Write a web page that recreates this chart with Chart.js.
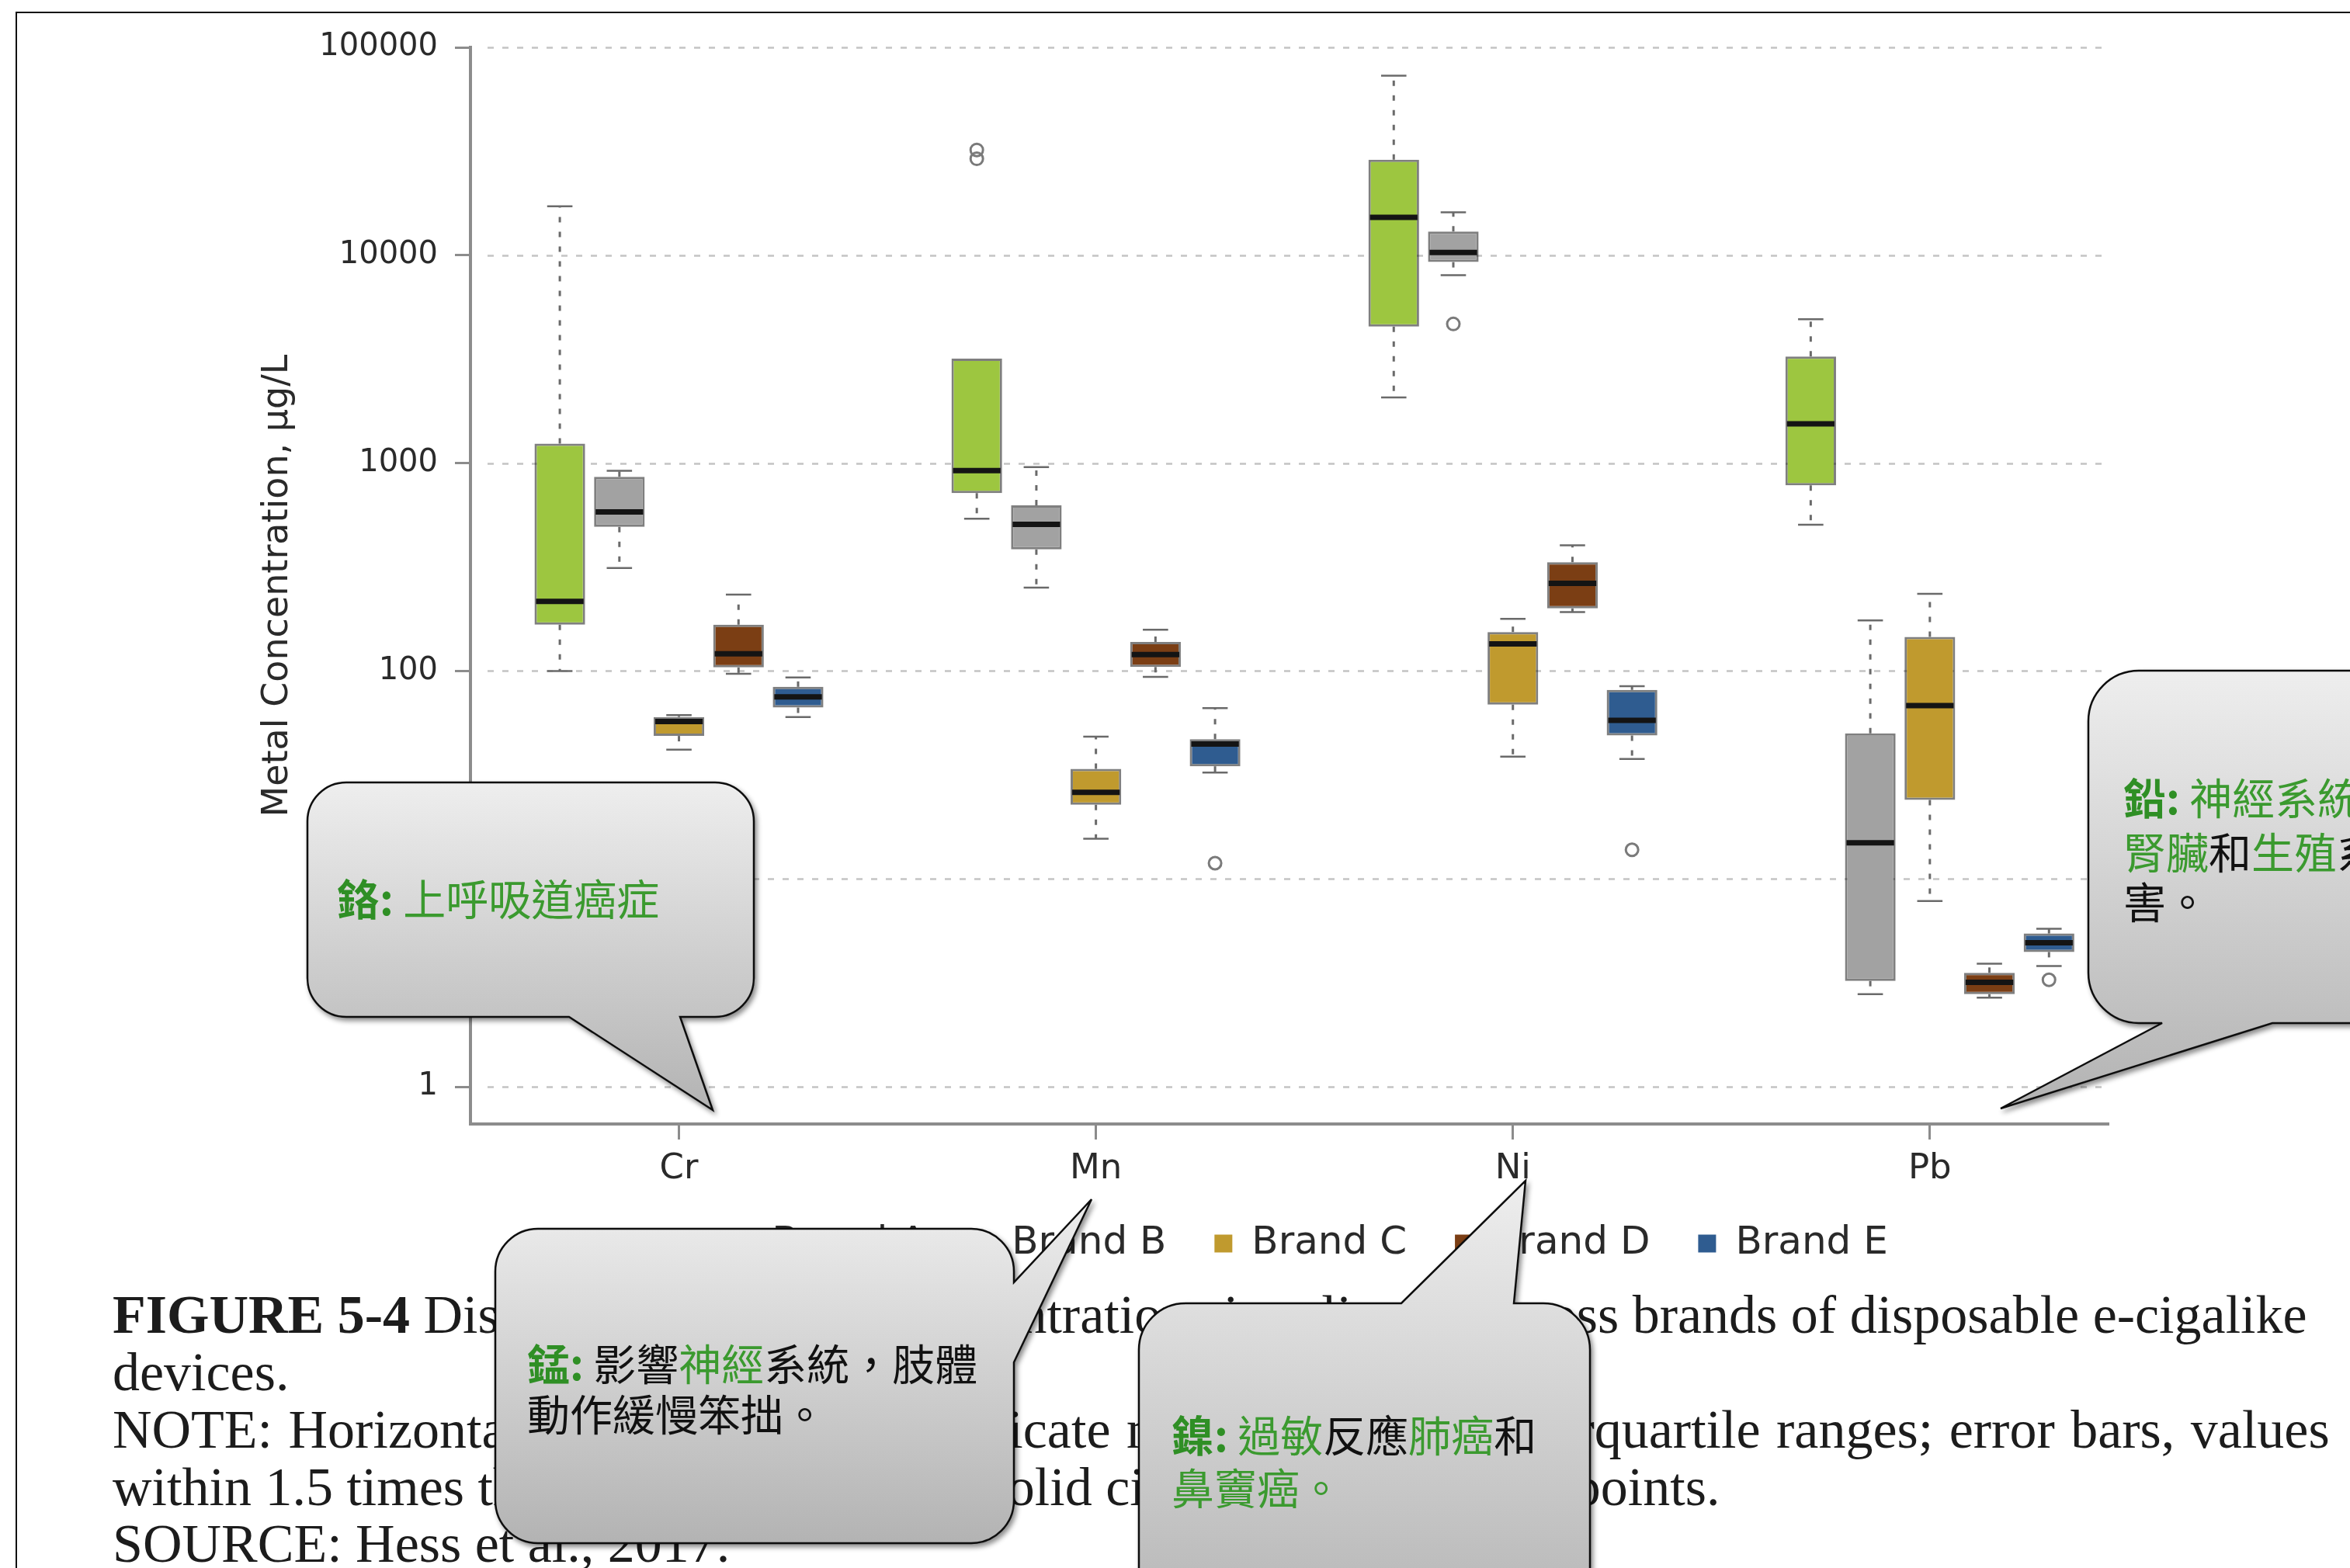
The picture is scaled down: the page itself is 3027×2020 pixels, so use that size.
<!DOCTYPE html>
<html lang="zh-Hant">
<head>
<meta charset="utf-8">
<title>Metal concentrations across brands of disposable e-cigalike devices</title>
<script src="https://cdn.jsdelivr.net/npm/chart.js@4.4.1/dist/chart.umd.min.js"></script>
<style>
  html, body { margin: 0; padding: 0; background: #fff; }
  #page { position: relative; width: 3027px; height: 2020px; overflow: hidden; background: #fff; }
  #chartBox { position: absolute; left: 0; top: 0; width: 3027px; height: 1637px; }
  .frameTop { position: absolute; left: 20px; top: 15px; width: 3007px; height: 2px; background: #111; }
  .frameLeft { position: absolute; left: 20px; top: 15px; width: 2px; height: 2005px; background: #111; }
  .cap { position: absolute; left: 145px; font-family: 'Liberation Serif', 'Times New Roman', serif;
         font-size: 70px; line-height: 74px; color: #1c1c1c; white-space: nowrap; }
  #notes { position: absolute; left: 0; top: 0; }
  #notes text { font-family: 'Noto Sans CJK TC', 'Noto Sans CJK SC', sans-serif; font-size: 55px; white-space: pre; }
  #notes .g { fill: #3b9a2f; }
  #notes .k { fill: #111; }
  #notes .h { fill: #2f8f25; font-weight: bold; }
</style>
</head>
<body>
<div id="page">
  <div class="frameTop"></div>
  <div class="frameLeft"></div>
  <div id="chartBox"><canvas id="chart"></canvas></div>

  <div class="cap" style="top:1657px"><b>FIGURE 5-4</b> Distribution of metal concentrations in e-liquids across brands of disposable e-cigalike</div>
  <div class="cap" style="top:1731px">devices.</div>
  <div class="cap" style="top:1805px; word-spacing:3px">NOTE: Horizontal lines in the boxes indicate medians; boxes, interquartile ranges; error bars, values</div>
  <div class="cap" style="top:1879px">within 1.5 times the interquartile range; solid circles, outlying data points.</div>
  <div class="cap" style="top:1952px">SOURCE: Hess et al., 2017.</div>

  <svg id="notes" width="3027" height="2020" viewBox="0 0 3027 2020">
    <defs>
      <linearGradient id="bubbleFill" x1="0" y1="0" x2="0" y2="1">
        <stop offset="0" stop-color="#eeeeee"/>
        <stop offset="1" stop-color="#b3b3b3"/>
      </linearGradient>
      <filter id="bubbleShadow" x="-10%" y="-10%" width="130%" height="130%">
        <feDropShadow dx="3" dy="4" stdDeviation="3" flood-color="#000" flood-opacity="0.45"/>
      </filter>
    </defs>
    <g fill="url(#bubbleFill)" stroke="#111" stroke-width="2.5" filter="url(#bubbleShadow)">
      <path d="M446,1008 H921 A50,50 0 0 1 971,1058 V1260 A50,50 0 0 1 921,1310 H876 L918,1430 L733,1310 H446 A50,50 0 0 1 396,1260 V1058 A50,50 0 0 1 446,1008 Z"/>
      <path d="M693,1583 H1251 A55,55 0 0 1 1306,1638 V1652 L1406,1545 L1306,1755 V1933 A55,55 0 0 1 1251,1988 H693 A55,55 0 0 1 638,1933 V1638 A55,55 0 0 1 693,1583 Z"/>
      <path d="M1527,1679 H1805 L1965,1521 L1950,1679 H1988 A60,60 0 0 1 2048,1739 V2120 H1467 V1739 A60,60 0 0 1 1527,1679 Z"/>
      <path d="M2755,864 H3300 V1318 H2927 L2577,1428 L2785,1318 H2755 A65,65 0 0 1 2690,1253 V929 A65,65 0 0 1 2755,864 Z"/>
    </g>
    <text x="434" y="1179"><tspan class="h">鉻:</tspan><tspan class="g"> 上呼吸道癌症</tspan></text>

    <text x="679" y="1778"><tspan class="h">錳:</tspan><tspan class="k"> 影響</tspan><tspan class="g">神經</tspan><tspan class="k">系統，肢體</tspan></text>
    <text x="679" y="1843"><tspan class="k">動作緩慢笨拙。</tspan></text>

    <text x="1509" y="1870"><tspan class="h">鎳:</tspan><tspan class="g"> 過敏</tspan><tspan class="k">反應</tspan><tspan class="g">肺癌</tspan><tspan class="k">和</tspan></text>
    <text x="1509" y="1938"><tspan class="g">鼻竇癌。</tspan></text>

    <text x="2735" y="1049"><tspan class="h">鉛:</tspan><tspan class="g"> 神經系統，</tspan></text>
    <text x="2735" y="1119"><tspan class="g">腎臟</tspan><tspan class="k">和</tspan><tspan class="g">生殖</tspan><tspan class="k">系統損</tspan></text>
    <text x="2735" y="1183"><tspan class="k">害。</tspan></text>
  </svg>
</div>

<script>
// Metals on the x axis and the brands drawn for each of them
const elements = ['Cr', 'Mn', 'Ni', 'Pb'];
const brands = ['Brand A', 'Brand B', 'Brand C', 'Brand D', 'Brand E'];

// Five-number summaries per metal (Cr, Mn, Ni, Pb), in µg/L:
// [lower whisker, first quartile, median, third quartile, upper whisker]
const brandA = [[100, 167, 216, 1240, 17200], [540, 718, 921, 3180, 3180], [2070, 4540, 15200, 28800, 73100], [505, 781, 1544, 3260, 4920]];
const brandB = [[313, 494, 582, 859, 918], [252, 385, 508, 626, 957], [8020, 9270, 10300, 13000, 16100], [2.79, 3.23, 14.9, 50.1, 175]];
const brandC = [[41.8, 48.7, 57.2, 60.1, 61.4], [15.6, 22.7, 26.1, 33.8, 48.3], [38.7, 68.9, 135, 154, 178], [7.83, 24.0, 68.2, 146, 235]];
const brandD = [[97, 104, 121, 167, 233], [93.6, 104.5, 120, 138, 158], [192, 200, 264, 334, 402], [2.68, 2.79, 3.18, 3.53, 3.91]];
const brandE = [[60, 66.7, 75, 83.9, 93], [32.5, 34.8, 44.5, 47, 66.3], [37.7, 48.9, 57.9, 81.1, 84.5], [3.81, 4.45, 4.93, 5.46, 5.76]];

// Points outside the whiskers: [metal index, value]
const outliersA = [[1, 32100], [1, 29100]];
const outliersB = [[2, 4670]];
const outliersE = [[1, 11.9], [2, 13.8], [3, 3.27]];

// Decades labelled on the logarithmic value axis
const yTicks = [1, 10, 100, 1000, 10000, 100000];

const summaries = [brandA, brandB, brandC, brandD, brandE];
const outlierSets = [[0, outliersA], [1, outliersB], [4, outliersE]];
const colors = ['#9dc640', '#a2a2a2', '#c09a2e', '#7b3e14', '#2f5c90'];

// Each metal takes seven slots on the x axis: five boxes and a two-slot gap
const slot = (metal, brand) => metal * 7 + brand + 1;
const groupCenters = elements.map((_, i) => slot(i, 2));

const FONT = "'DejaVu Sans', 'Liberation Sans', sans-serif";
Chart.defaults.font.family = FONT;
Chart.defaults.color = '#2a2a2a';

const boxDatasets = summaries.map((rows, b) => ({
  type: 'bar',
  label: brands[b],
  data: rows.map((s, i) => ({ x: slot(i, b), y: [s[1], s[3]] })),
  backgroundColor: colors[b],
  borderColor: 'rgba(0,0,0,0.5)',
  borderWidth: 3,
  borderSkipped: false,
  grouped: false,
  categoryPercentage: 1,
  barPercentage: 0.85,
  order: 2
}));

const outlierData = [];
outlierSets.forEach(([b, list]) => list.forEach(([i, v]) => outlierData.push({ x: slot(i, b), y: v })));

const outlierDataset = {
  type: 'scatter',
  label: 'outliers',
  data: outlierData,
  pointRadius: 8,
  pointBorderWidth: 3,
  pointBorderColor: '#7a7a7a',
  pointBackgroundColor: 'rgba(0,0,0,0)',
  order: 1
};

// Dotted reference lines at each decade, whiskers, caps, median bars
// and the metal names under each group of boxes
const boxDecor = {
  id: 'boxDecor',
  afterLayout(chart) {
    // the legend row sits a little right of the plot centre
    if (chart.legend) { chart.legend.left += 28; chart.legend.right += 28; }
  },
  beforeDatasetsDraw(chart) {
    const { ctx, chartArea, scales: { y } } = chart;
    ctx.save();
    ctx.strokeStyle = '#c4c4c4';
    ctx.lineWidth = 2.5;
    ctx.setLineDash([8, 11]);
    yTicks.forEach(v => {
      const py = Math.round(y.getPixelForValue(v)) + 0.5;
      ctx.beginPath();
      ctx.moveTo(chartArea.left + 22, py);
      ctx.lineTo(chartArea.right - 4, py);
      ctx.stroke();
    });
    ctx.restore();
  },
  afterDatasetsDraw(chart) {
    const { ctx, scales: { y } } = chart;
    ctx.save();
    summaries.forEach((rows, b) => {
      const meta = chart.getDatasetMeta(b);
      rows.forEach((s, i) => {
        const bar = meta.data[i];
        if (!bar) return;
        const cx = bar.x;
        const half = bar.width / 2;
        const [lo, q1, med, q3, hi] = s;
        const seg = (x1, y1, x2, y2) => { ctx.beginPath(); ctx.moveTo(x1, y1); ctx.lineTo(x2, y2); ctx.stroke(); };
        ctx.strokeStyle = '#6a6a6a';
        ctx.lineWidth = 3;
        ctx.setLineDash([7, 12]);
        if (hi > q3) seg(cx, y.getPixelForValue(q3), cx, y.getPixelForValue(hi));
        if (lo < q1) seg(cx, y.getPixelForValue(q1), cx, y.getPixelForValue(lo));
        ctx.setLineDash([]);
        ctx.lineWidth = 2.5;
        if (hi > q3) seg(cx - half / 2, y.getPixelForValue(hi), cx + half / 2, y.getPixelForValue(hi));
        if (lo < q1) seg(cx - half / 2, y.getPixelForValue(lo), cx + half / 2, y.getPixelForValue(lo));
        ctx.strokeStyle = '#141414';
        ctx.lineWidth = 7;
        seg(cx - half + 2, y.getPixelForValue(med), cx + half - 2, y.getPixelForValue(med));
      });
    });
    ctx.restore();
  },
  afterDraw(chart) {
    const { ctx, chartArea, scales: { x } } = chart;
    ctx.save();
    ctx.font = '45px ' + FONT;
    ctx.fillStyle = '#2a2a2a';
    ctx.textAlign = 'center';
    ctx.textBaseline = 'middle';
    elements.forEach((name, i) => {
      ctx.fillText(name, x.getPixelForValue(groupCenters[i]), chartArea.bottom + 58);
    });
    ctx.restore();
  }
};

new Chart(document.getElementById('chart'), {
  type: 'bar',
  data: { datasets: [...boxDatasets, outlierDataset] },
  plugins: [boxDecor],
  options: {
    responsive: true,
    maintainAspectRatio: false,
    devicePixelRatio: 1,
    animation: false,
    layout: { padding: { left: 326, right: 311, top: 61, bottom: 0 } },
    plugins: {
      tooltip: { enabled: false },
      legend: {
        position: 'bottom',
        fullSize: false,
        labels: {
          boxWidth: 23,
          boxHeight: 23,
          padding: 62,
          color: '#2a2a2a',
          font: { size: 50 },
          generateLabels: (chart) => Chart.defaults.plugins.legend.labels.generateLabels(chart)
            .filter(l => l.datasetIndex < brands.length)
            .map(l => Object.assign(l, { lineWidth: 0 }))
        }
      }
    },
    scales: {
      x: {
        type: 'linear',
        min: -0.5,
        max: 27,
        offset: false,
        afterBuildTicks: (axis) => { axis.ticks = groupCenters.map(v => ({ value: v })); },
        afterFit: (axis) => { axis.height = 67; },
        ticks: { display: false },
        grid: { offset: false, drawOnChartArea: false, drawTicks: true, tickLength: 20, tickColor: '#8c8c8c', tickWidth: 3 },
        border: { color: '#8c8c8c', width: 4 }
      },
      y: {
        type: 'logarithmic',
        min: 0.662,
        max: 100000,
        afterBuildTicks: (axis) => { axis.ticks = yTicks.map(v => ({ value: v })); },
        afterFit: (axis) => { axis.width = 280; },
        ticks: {
          padding: 22,
          color: '#2a2a2a',
          font: { size: 40 },
          callback: (value) => String(value)
        },
        title: {
          display: true,
          text: 'Metal Concentration, µg/L',
          color: '#2a2a2a',
          font: { size: 46 }
        },
        grid: { drawOnChartArea: false, drawTicks: true, tickLength: 20, tickColor: '#8c8c8c', tickWidth: 3 },
        border: { color: '#8c8c8c', width: 4 }
      }
    }
  }
});
</script>
</body>
</html>
